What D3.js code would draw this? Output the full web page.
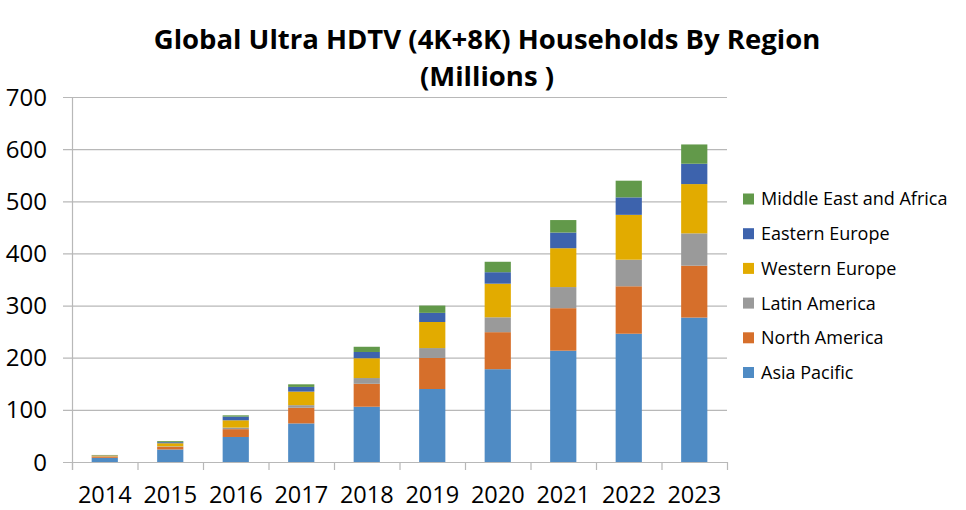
<!DOCTYPE html>
<html>
<head>
<meta charset="utf-8">
<script src="https://cdn.jsdelivr.net/npm/d3@7"></script>
<style>
  body { margin: 0; background: #fff; }
  text { font-family: "Open Sans", sans-serif; fill: #000; }
</style>
</head>
<body>
<div id="chart"></div>
<script>
// Data (millions of households).
const years = ["2014", "2015", "2016", "2017", "2018", "2019", "2020", "2021", "2022", "2023"];
const regions = ["Asia Pacific", "North America", "Latin America", "Western Europe", "Eastern Europe", "Middle East and Africa"];
const asiaPacific   = [8, 24, 48, 74, 106, 140, 178, 213.5, 246, 277];
const northAmerica  = [2.5, 5, 15, 30, 44, 59.5, 71, 81.5, 91, 99.5];
const latinAmerica  = [0.5, 1, 3, 5, 11, 19, 28.5, 40.5, 51, 62];
const westernEurope = [1.5, 6, 14, 26, 38, 50, 64.5, 74.5, 86, 94.5];
const easternEurope = [0.5, 2, 7, 9, 12, 17.5, 22, 30, 33.5, 39];
const middleEastAfrica = [0.5, 2, 2.5, 5, 10, 14, 20, 24, 32, 37];
const yTicks = [0, 100, 200, 300, 400, 500, 600, 700];

const seriesValues = [asiaPacific, northAmerica, latinAmerica, westernEurope, easternEurope, middleEastAfrica];
const colors = ["#4f8bc4", "#d66f2b", "#9a9a9a", "#e2ab00", "#3d63ad", "#62994a"];

const WIDTH = 966, HEIGHT = 510;
const PLOT = {'left': 72, 'right': 727, 'top': 97, 'bottom': 462};

var svg = d3.select("#chart").append("svg")
            .attr("width", WIDTH)
            .attr("height", HEIGHT);

// table the stack layout wants
var table = years.map(function (y, i) {
    var row = {year: y};
    regions.forEach(function (r, j) { row[r] = seriesValues[j][i]; });
    return row;
});
var stacked = d3.stack().keys(regions)(table);

var x = d3.scaleBand().domain(years).range([PLOT.left, PLOT.right]).paddingInner(0.6).paddingOuter(0.3);
var y = d3.scaleLinear().domain([0, 700]).range([PLOT.bottom, PLOT.top]);

// gridlines + y labels
svg.append("g")
   .selectAll("line")
   .data(yTicks)
   .enter().append("line")
   .attr("x1", PLOT.left - 9).attr("x2", PLOT.right)
   .attr("y1", function (d) { return y(d) + 0.5; })
   .attr("y2", function (d) { return y(d) + 0.5; })
   .attr("stroke", "#b8b8b8").attr("stroke-width", 1.2);

svg.append("g")
   .selectAll("text")
   .data(yTicks)
   .enter().append("text")
   .attr("x", 47)
   .attr("y", function (d) { return y(d); })
   .attr("dy", "0.36em")
   .attr("text-anchor", "end")
   .attr("font-size", "24px")
   .text(function (d) { return d; });

// y axis line
svg.append("line")
   .attr("x1", PLOT.left + 0.5).attr("x2", PLOT.left + 0.5)
   .attr("y1", PLOT.top).attr("y2", PLOT.bottom + 8)
   .attr("stroke", "#b8b8b8").attr("stroke-width", 1.2);

// category tick marks at band edges
var edges = years.map(function (d) { return x(d) - x.step() * x.paddingInner() / 2; });
edges.push(PLOT.right);
edges[0] = PLOT.left;
svg.append("g")
   .selectAll("line")
   .data(edges)
   .enter().append("line")
   .attr("x1", function (d) { return d + 0.5; })
   .attr("x2", function (d) { return d + 0.5; })
   .attr("y1", PLOT.bottom).attr("y2", PLOT.bottom + 8)
   .attr("stroke", "#b8b8b8").attr("stroke-width", 1.2);

// bars
var layers = svg.append("g")
                .selectAll("g")
                .data(stacked)
                .enter().append("g")
                .attr("fill", function (d, i) { return colors[i]; });

layers.selectAll("rect")
      .data(function (d) { return d; })
      .enter().append("rect")
      .attr("x", function (d) { return x(d.data.year); })
      .attr("width", x.bandwidth())
      .attr("y", function (d) { return y(d[1]); })
      .attr("height", function (d) { return y(d[0]) - y(d[1]); });

// x labels
svg.append("g")
   .selectAll("text")
   .data(years)
   .enter().append("text")
   .attr("x", function (d) { return x(d) + x.bandwidth() / 2; })
   .attr("y", 502.5)
   .attr("text-anchor", "middle")
   .attr("font-size", "23.5px")
   .text(function (d) { return d; });

// title
var title = svg.append("text")
               .attr("x", 487)
               .attr("text-anchor", "middle")
               .attr("font-weight", "bold")
               .attr("font-size", "27.5px");
title.append("tspan").attr("x", 487).attr("y", 48.5).text("Global Ultra HDTV (4K+8K) Households By Region");
title.append("tspan").attr("x", 487).attr("y", 86).text("(Millions )");

// legend, top entry is the last series
var legend = svg.append("g")
                .selectAll("g")
                .data(regions.slice().reverse())
                .enter().append("g")
                .attr("transform", function (d, i) { return "translate(743," + (199 + i * 34.7) + ")"; });

legend.append("rect")
      .attr("x", 0).attr("y", -5.5)
      .attr("width", 11).attr("height", 11)
      .attr("fill", function (d) { return colors[regions.indexOf(d)]; });

legend.append("text")
      .attr("x", 18)
      .attr("y", 0)
      .attr("dy", "0.36em")
      .attr("font-size", "18px")
      .text(function (d) { return d; });
</script>
</body>
</html>
